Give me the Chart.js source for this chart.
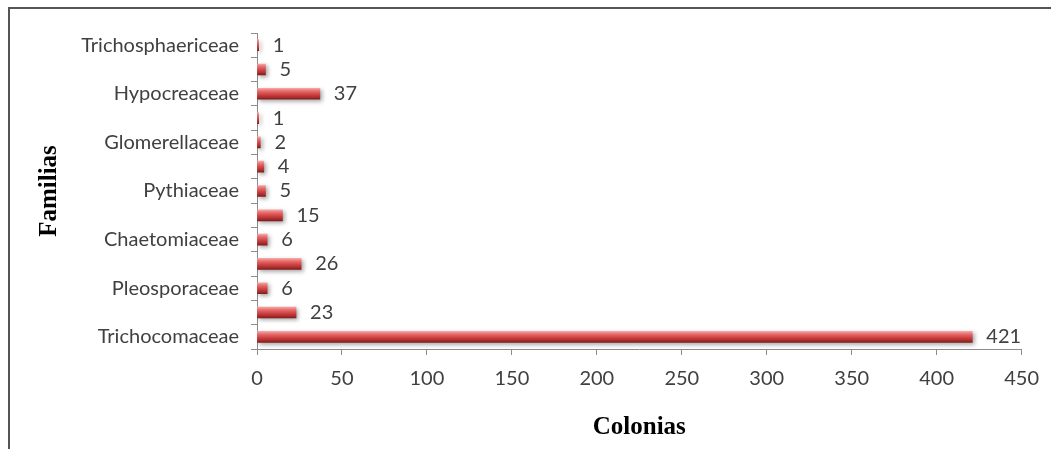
<!DOCTYPE html>
<html>
<head>
<meta charset="utf-8">
<script src="https://cdn.jsdelivr.net/npm/chart.js@4/dist/chart.umd.min.js"></script>
<style>
  html, body { margin: 0; padding: 0; background: #fff; }
  #wrap { width: 1051px; height: 449px; position: relative; }
</style>
</head>
<body>
<div id="wrap"><canvas id="chart" width="1051" height="449"></canvas></div>
<script>
// Families listed top to bottom; blank entries are rows without a printed name
const categories = [
  "Trichosphaericeae", "", "Hypocreaceae", "", "Glomerellaceae", "",
  "Pythiaceae", "", "Chaetomiaceae", "", "Pleosporaceae", "", "Trichocomaceae"
];
// Number of colonies per row (same order as categories)
const colonias = [1, 5, 37, 1, 2, 4, 5, 15, 6, 26, 6, 23, 421];
// Value axis range and step
const xMin = 0;
const xMax = 450;
const xStep = 50;

const xTitle = "Colonias";
const yTitle = "Familias";

const BAR_H = 11;
const TICK_FONT = { family: "Lato, 'Open Sans', sans-serif", size: 20 };
const TICK_COLOR = "#404040";

// Cylinder-like shading for each bar
function barGradient(ctx) {
  const chart = ctx.chart;
  const y = chart.scales && chart.scales.y;
  if (!y || ctx.dataIndex === undefined || y.top === undefined) return "#c0504d";
  const c = y.getPixelForValue(ctx.dataIndex);
  const g = chart.ctx.createLinearGradient(0, c - BAR_H / 2, 0, c + BAR_H / 2);
  g.addColorStop(0, "#f3a5a5");
  g.addColorStop(0.25, "#e86c6c");
  g.addColorStop(0.55, "#d04444");
  g.addColorStop(0.85, "#a52a2a");
  g.addColorStop(1, "#7d1d1d");
  return g;
}

// Soft drop shadow under the bars
const barShadow = {
  id: "barShadow",
  beforeDatasetsDraw(chart) {
    const c = chart.ctx;
    c.save();
    c.shadowColor = "rgba(0,0,0,0.35)";
    c.shadowBlur = 4;
    c.shadowOffsetX = 2;
    c.shadowOffsetY = 2;
  },
  afterDatasetsDraw(chart) {
    chart.ctx.restore();
  }
};

// Value labels to the right of each bar
const valueLabels = {
  id: "valueLabels",
  afterDatasetsDraw(chart) {
    const c = chart.ctx;
    const meta = chart.getDatasetMeta(0);
    c.save();
    c.font = `${TICK_FONT.size}px ${TICK_FONT.family}`;
    c.fillStyle = TICK_COLOR;
    c.textAlign = "left";
    c.textBaseline = "middle";
    meta.data.forEach((bar, i) => {
      c.fillText(String(colonias[i]), bar.x + 14, bar.y);
    });
    c.restore();
  }
};

// Axis titles and the outer frame
const decorations = {
  id: "decorations",
  afterDraw(chart) {
    const c = chart.ctx;
    const a = chart.chartArea;
    c.save();
    c.fillStyle = "#000";
    c.font = "bold 25px 'Liberation Serif', 'DejaVu Serif', serif";
    c.textAlign = "center";
    c.textBaseline = "middle";
    c.fillText(xTitle, (a.left + a.right) / 2 + 0, 428);
    c.translate(50, (a.top + a.bottom) / 2);
    c.rotate(-Math.PI / 2);
    c.fillText(yTitle, 0, 0);
    c.restore();

    c.save();
    c.strokeStyle = "#555";
    c.lineWidth = 2;
    c.beginPath();
    c.moveTo(9, 449);
    c.lineTo(9, 8);
    c.lineTo(1051, 8);
    c.stroke();
    c.restore();
  }
};

new Chart(document.getElementById("chart"), {
  type: "bar",
  data: {
    labels: categories,
    datasets: [{
      data: colonias,
      backgroundColor: barGradient,
      borderWidth: 0,
      barThickness: BAR_H
    }]
  },
  options: {
    indexAxis: "y",
    responsive: false,
    animation: false,
    layout: { padding: { top: 33, right: 28, left: 10, bottom: 0 } },
    plugins: {
      legend: { display: false },
      tooltip: { enabled: false }
    },
    scales: {
      x: {
        min: xMin,
        max: xMax,
        ticks: {
          stepSize: xStep,
          font: TICK_FONT,
          color: TICK_COLOR,
          padding: 12
        },
        grid: {
          drawOnChartArea: false,
          drawTicks: true,
          tickLength: 6,
          color: "#8c8c8c"
        },
        border: { display: true, color: "#8c8c8c" },
        afterFit(scale) { scale.height = 100; }
      },
      y: {
        ticks: {
          autoSkip: false,
          font: TICK_FONT,
          color: TICK_COLOR,
          padding: 12
        },
        grid: {
          drawOnChartArea: false,
          drawTicks: true,
          tickLength: 6,
          color: "#8c8c8c"
        },
        border: { display: true, color: "#8c8c8c" },
        afterFit(scale) { scale.width = 247; }
      }
    }
  },
  plugins: [barShadow, valueLabels, decorations]
});
</script>
</body>
</html>
